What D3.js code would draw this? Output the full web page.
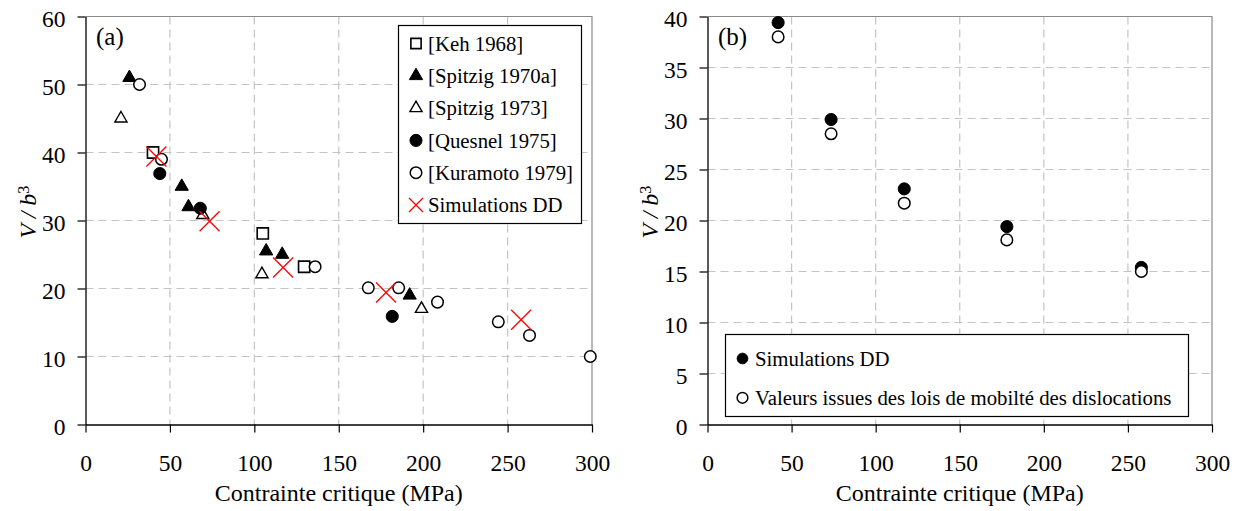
<!DOCTYPE html>
<html>
<head>
<meta charset="utf-8">
<script src="https://cdnjs.cloudflare.com/ajax/libs/d3/7.8.5/d3.min.js"></script>
</head>
<body style="margin:0;padding:0;background:#fff">
<svg id="chart" width="1244" height="511" style="display:block"></svg>
<script>
// ---- Panel (a): activation volume vs critical stress, experimental data ----
const kehX = [40, 105, 129.5];
const kehY = [40, 28.1, 23.2];
const spitzig70X = [26, 57, 61, 107, 116.5, 192];
const spitzig70Y = [51, 35, 32, 25.5, 25, 19];
const spitzig73X = [21, 69.5, 104.5, 199];
const spitzig73Y = [45, 30.8, 22.1, 17];
const quesnelX = [44, 68, 181.7];
const quesnelY = [36.9, 31.8, 15.9];
const kuramotoX = [32, 45, 136, 167.5, 185.5, 208.5, 244.5, 263, 299];
const kuramotoY = [50, 39, 23.2, 20.1, 20.1, 18, 15.1, 13.1, 10];

// ---- Simulations DD (shared by both panels) ----
const simX = [42, 73.5, 117, 178, 258];
const simY = [39.4, 29.9, 23.1, 19.4, 15.4];
// ---- Panel (b): values from dislocation mobility laws ----
const lawY = [38.0, 28.5, 21.7, 18.1, 15.0];

const xTicks = [0, 50, 100, 150, 200, 250, 300];
const yTicksA = [0, 10, 20, 30, 40, 50, 60];
const yTicksB = [0, 5, 10, 15, 20, 25, 30, 35, 40];

const xTitle = "Contrainte critique (MPa)";
const legendA = ["[Keh 1968]", "[Spitzig 1970a]", "[Spitzig 1973]", "[Quesnel 1975]", "[Kuramoto 1979]", "Simulations DD"];
const legendB = ["Simulations DD", "Valeurs issues des lois de mobilté des dislocations"];

const SERIF = '"Liberation Serif", Tinos, "Times New Roman", serif';
const svg = d3.select("#chart");
const TOP = 16.5, BOTTOM = 424.5;
const TICK_FONT = 23.5, TITLE_FONT = 24, LEG_FONT = 20.8;

const zip = (xs, ys) => xs.map((x, i) => ({x, y: ys[i]}));

function drawFrame(x, y, yTicks, panelLabel) {
  const [x0, x1] = x.range();
  const g = svg.append("g");
  // dashed grid
  g.selectAll(".gx").data(xTicks.filter(t => t > 0 && t < 300)).join("line")
    .attr("x1", d => x(d)).attr("x2", d => x(d))
    .attr("y1", TOP).attr("y2", BOTTOM)
    .attr("stroke", "#c4c4c4").attr("stroke-width", 1.2).attr("stroke-dasharray", "8,5");
  g.selectAll(".gy").data(yTicks.slice(1, -1)).join("line")
    .attr("x1", x0).attr("x2", x1)
    .attr("y1", d => y(d)).attr("y2", d => y(d))
    .attr("stroke", "#c4c4c4").attr("stroke-width", 1.2).attr("stroke-dasharray", "8,5");
  // top & right border
  g.append("path")
    .attr("d", `M${x0},${TOP}H${x1}V${BOTTOM}`)
    .attr("fill", "none").attr("stroke", "#8a8a8a").attr("stroke-width", 1.2);

  // axes
  const ax = g.append("g").attr("transform", `translate(0,${BOTTOM})`)
    .call(d3.axisBottom(x).tickValues(xTicks).tickSizeInner(8).tickSizeOuter(0).tickPadding(22));
  const ay = g.append("g").attr("transform", `translate(${x0},0)`)
    .call(d3.axisLeft(y).tickValues(yTicks).tickSizeInner(8).tickSizeOuter(0).tickPadding(12));
  [ax, ay].forEach(a => {
    a.select(".domain").attr("stroke", "#000").attr("stroke-width", 1.3);
    a.selectAll(".tick line").attr("stroke", "#000").attr("stroke-width", 1.2);
    a.selectAll(".tick text").attr("fill", "#000").style("font-size", TICK_FONT + "px");
  });
  ay.selectAll(".tick text").attr("dy", "0.42em");

  // axis titles
  g.append("text").attr("x", (x0 + x1) / 2).attr("y", 501)
    .attr("text-anchor", "middle").style("font-size", TITLE_FONT + "px").text(xTitle);
  const yt = g.append("text")
    .attr("transform", `translate(${x0 - 50},${212}) rotate(-90)`)
    .attr("text-anchor", "middle").style("font-size", TITLE_FONT + "px")
    .style("font-style", "italic");
  yt.append("tspan").text("V / b");
  yt.append("tspan").attr("dy", "-0.4em").style("font-size", (TITLE_FONT * 0.68) + "px")
    .style("font-style", "normal").text("3");

  g.append("text").attr("x", x0 + 10.5).attr("y", 45)
    .style("font-size", "25px").text(panelLabel);
}

// marker painters
const sym = (type, size) => d3.symbol().type(type).size(size)();
function markers(g, data, x, y, kind) {
  const sel = g.selectAll(null).data(data).join("path")
    .attr("transform", d => `translate(${x(d.x)},${y(d.y)})`);
  styleMarker(sel, kind);
}
function styleMarker(sel, kind) {
  switch (kind) {
    case "square":
      sel.attr("d", sym(d3.symbolSquare, 125)).attr("fill", "#fff").attr("stroke", "#000").attr("stroke-width", 1.6); break;
    case "triFill":
      sel.attr("d", sym(d3.symbolTriangle, 76)).attr("fill", "#000").attr("stroke", "#000").attr("stroke-width", 1); break;
    case "triOpen":
      sel.attr("d", sym(d3.symbolTriangle, 64)).attr("fill", "#fff").attr("stroke", "#000").attr("stroke-width", 1.4); break;
    case "dotFill":
      sel.attr("d", sym(d3.symbolCircle, 115)).attr("fill", "#000").attr("stroke", "#000").attr("stroke-width", 1); break;
    case "dotOpen":
      sel.attr("d", sym(d3.symbolCircle, 105)).attr("fill", "#fff").attr("stroke", "#000").attr("stroke-width", 1.5); break;
    case "cross":
      sel.attr("d", "M-10,-10L10,10M-10,10L10,-10").attr("fill", "none").attr("stroke", "#ff0000").attr("stroke-width", 1.3); break;
  }
}

// ================= Panel (a) =================
const xA = d3.scaleLinear().domain([0, 300]).range([85.5, 592]);
const yA = d3.scaleLinear().domain([0, 60]).range([BOTTOM, TOP]);
drawFrame(xA, yA, yTicksA, "(a)");
const gA = svg.append("g");
markers(gA, zip(kehX, kehY), xA, yA, "square");
markers(gA, zip(spitzig70X, spitzig70Y), xA, yA, "triFill");
markers(gA, zip(spitzig73X, spitzig73Y), xA, yA, "triOpen");
markers(gA, zip(quesnelX, quesnelY), xA, yA, "dotFill");
markers(gA, zip(kuramotoX, kuramotoY), xA, yA, "dotOpen");
markers(gA, zip(simX, simY), xA, yA, "cross");

// legend (a)
const legA = svg.append("g");
legA.append("rect").attr("x", 398.5).attr("y", 25.5).attr("width", 183).attr("height", 198)
  .attr("fill", "#fff").attr("stroke", "#000").attr("stroke-width", 1.2);
const kindsA = ["square", "triFill", "triOpen", "dotFill", "dotOpen", "cross"];
legendA.forEach((label, i) => {
  const cy = 43.5 + i * 32.3;
  const m = legA.append("path").attr("transform", `translate(416,${cy})`);
  styleMarker(m, kindsA[i]);
  if (kindsA[i] === "cross") m.attr("d", "M-7,-7L7,7M-7,7L7,-7");
  if (kindsA[i] === "square") m.attr("d", sym(d3.symbolSquare, 105));
  legA.append("text").attr("x", 428).attr("y", cy).attr("dy", "0.35em")
    .style("font-size", LEG_FONT + "px").text(label);
});

// ================= Panel (b) =================
const xB = d3.scaleLinear().domain([0, 300]).range([707.5, 1212]);
const yB = d3.scaleLinear().domain([0, 40]).range([BOTTOM, TOP]);
drawFrame(xB, yB, yTicksB, "(b)");
const gB = svg.append("g");
markers(gB, zip(simX, simY), xB, yB, "dotFill");
markers(gB, zip(simX, lawY), xB, yB, "dotOpen");

// legend (b)
const legB = svg.append("g");
legB.append("rect").attr("x", 725.5).attr("y", 334.5).attr("width", 463).attr("height", 82)
  .attr("fill", "#fff").attr("stroke", "#000").attr("stroke-width", 1.2);
["dotFill", "dotOpen"].forEach((k, i) => {
  const cy = 358.5 + i * 39.3;
  const m = legB.append("path").attr("transform", `translate(742.5,${cy})`);
  styleMarker(m, k);
  m.attr("d", sym(d3.symbolCircle, 90));
  legB.append("text").attr("x", 755).attr("y", cy).attr("dy", "0.35em")
    .style("font-size", LEG_FONT + "px").text(legendB[i]);
});

// every label in the figure uses the serif face
svg.selectAll("text").style("font-family", SERIF);
</script>
</body>
</html>
